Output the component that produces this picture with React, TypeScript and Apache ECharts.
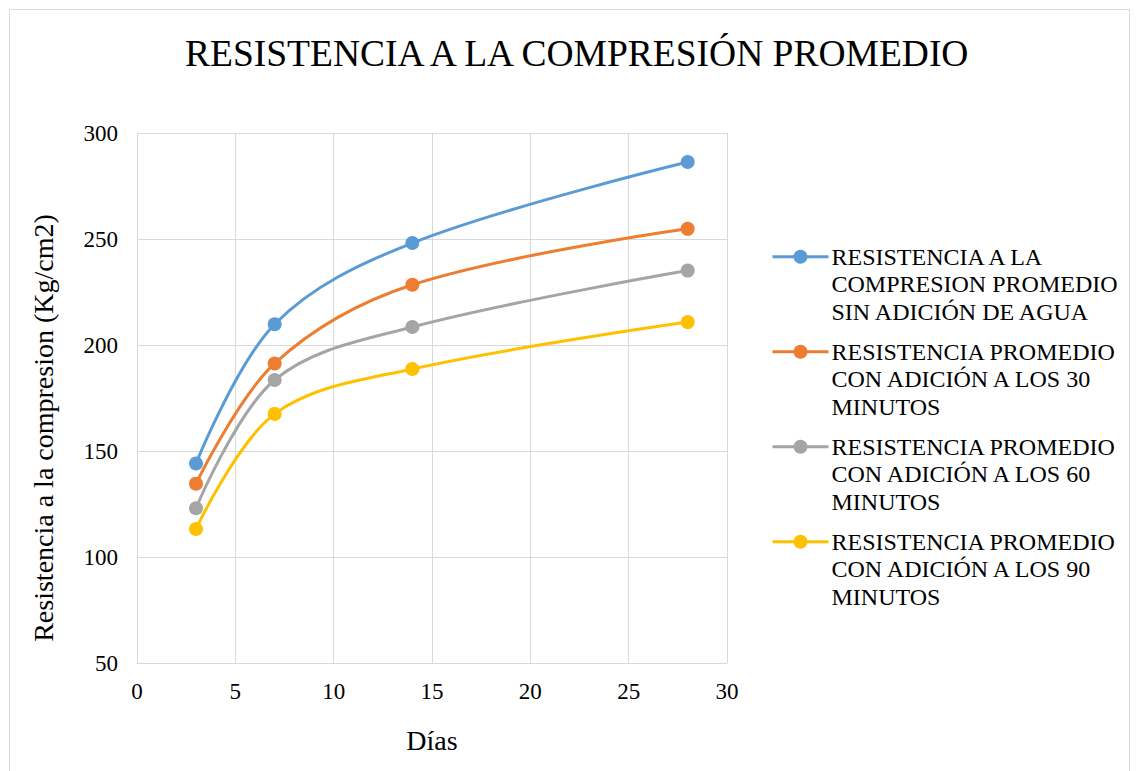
import React, { useEffect, useRef } from "react";
import * as echarts from "echarts";

const days = [3, 7, 14, 28];
const sinAgua = [144.1, 209.8, 248.1, 286.3];
const con30 = [134.6, 191.3, 228.4, 254.8];
const con60 = [123.0, 183.5, 208.5, 235.1];
const con90 = [113.2, 167.5, 188.7, 210.8];

const seriesNames = [
  "RESISTENCIA A LA\nCOMPRESION PROMEDIO\nSIN ADICIÓN DE AGUA",
  "RESISTENCIA PROMEDIO\nCON ADICIÓN A LOS 30\nMINUTOS",
  "RESISTENCIA PROMEDIO\nCON ADICIÓN A LOS 60\nMINUTOS",
  "RESISTENCIA PROMEDIO\nCON ADICIÓN A LOS 90\nMINUTOS",
];
const seriesValues = [sinAgua, con30, con60, con90];
const colors = ["#5B9BD5", "#ED7D31", "#A5A5A5", "#FFC000"];

const FONT = "'Liberation Serif', 'Times New Roman', serif";

export default function App() {
  const ref = useRef<HTMLDivElement>(null);
  useEffect(() => {
    if (!ref.current) return;
    const chart = echarts.init(ref.current, null, { renderer: "svg" });
    chart.setOption({
      animation: false,
      backgroundColor: "#ffffff",
      textStyle: { fontFamily: FONT },
      title: {
        text: "RESISTENCIA A LA COMPRESIÓN PROMEDIO",
        left: 180,
        top: 29,
        textStyle: { fontFamily: FONT, fontSize: 37.5, fontWeight: "normal", color: "#000" },
      },
      graphic: [
        {
          type: "rect",
          shape: { x: 9.5, y: 9.5, width: 1120, height: 775 },
          style: { fill: "none", stroke: "#D9D9D9", lineWidth: 1 },
          silent: true,
        },
      ],
      grid: { left: 137, right: 412, top: 133, bottom: 108, containLabel: false },
      legend: {
        orient: "vertical",
        left: 766,
        top: 183,
        itemWidth: 56,
        itemHeight: 17.5,
        itemGap: -42.5,
        data: seriesNames,
        formatter: (name: string) => "\n\n" + name,
        lineStyle: { width: 3 },
        textStyle: {
          fontFamily: FONT,
          fontSize: 24,
          lineHeight: 27.5,
          color: "#000",
          padding: [0, 0, 0, -2],
        },
      },
      xAxis: {
        type: "value",
        min: 0,
        max: 30,
        interval: 5,
        name: "Días",
        nameLocation: "middle",
        nameGap: 63,
        nameTextStyle: { fontFamily: FONT, fontSize: 28, color: "#000" },
        axisLine: { show: true, lineStyle: { color: "#D9D9D9", width: 1 } },
        axisTick: { show: false },
        axisLabel: { fontFamily: FONT, fontSize: 23, color: "#000", margin: 17 },
        splitLine: { show: true, lineStyle: { color: "#D9D9D9", width: 1 } },
      },
      yAxis: {
        type: "value",
        min: 50,
        max: 300,
        interval: 50,
        name: "Resistencia a la compresion (Kg/cm2)",
        nameLocation: "middle",
        nameGap: 80,
        nameTextStyle: { fontFamily: FONT, fontSize: 28, color: "#000", padding: [0, 60, 0, 0] },
        axisLine: { show: true, lineStyle: { color: "#D9D9D9", width: 1 } },
        axisTick: { show: false },
        axisLabel: { fontFamily: FONT, fontSize: 23, color: "#000", margin: 19 },
        splitLine: { show: true, lineStyle: { color: "#D9D9D9", width: 1 } },
      },
      series: seriesValues.map((vals, i) => ({
        name: seriesNames[i],
        type: "line",
        smooth: 0.35,
        data: days.map((d, j) => [d, vals[j]]),
        symbol: "circle",
        symbolSize: 14,
        showSymbol: true,
        lineStyle: { color: colors[i], width: 3 },
        itemStyle: { color: colors[i] },
        emphasis: { disabled: true },
      })),
    });
    return () => chart.dispose();
  }, []);
  return (
    <div
      ref={ref}
      style={{ position: "absolute", left: 0, top: 0, width: 1139, height: 771 }}
    />
  );
}
